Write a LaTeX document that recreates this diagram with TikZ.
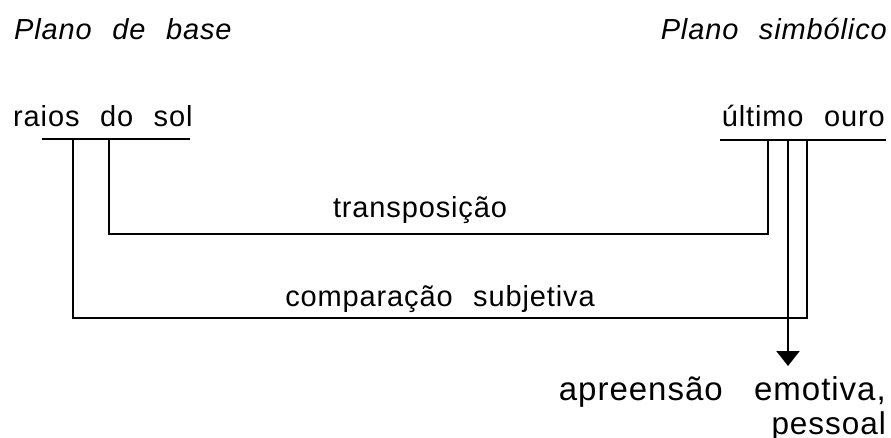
\documentclass[tikz,border=0pt]{standalone}
\usepackage{fontspec}
\setmainfont{Liberation Sans}[LetterSpace=3,WordSpace=2.3]
\usetikzlibrary{arrows.meta}
\begin{document}
\begin{tikzpicture}[x=1pt,y=-1pt,
  lbl/.style={inner sep=0pt,font=\fontsize{29}{33}\selectfont},
  big/.style={inner sep=0pt,font=\fontsize{31.5}{35}\selectfont},
  bigger/.style={inner sep=0pt,font=\fontsize{33}{37}\selectfont},
  ital/.style={inner sep=0pt,font=\fontsize{29}{33}\selectfont\itshape},
  conn/.style={line width=2.2pt,line cap=butt,line join=miter},
  uline/.style={line width=1.8pt}]
\useasboundingbox (0,0) rectangle (891,437);
% headings
\node[ital,anchor=base west] (pb) at (14,39) {Plano de base};
\node[ital,anchor=base east] (ps) at (887,39) {Plano simbólico};
% terms
\node[lbl,anchor=base west] (raios) at (13,126) {raios do sol};
\node[lbl,anchor=base east] (ultimo) at (885,126) {último ouro};
\coordinate (ulA) at (42,139);
\coordinate (ulB) at (190,139);
\coordinate (urA) at (720,140);
\coordinate (urB) at (886,140);
\draw[uline] (ulA) -- (ulB);
\draw[uline] (urA) -- (urB);
% connector attachment points
\coordinate (l1) at (73,139);
\coordinate (l2) at (109,139);
\coordinate (r1) at (768,140);
\coordinate (r2) at (788,140);
\coordinate (r3) at (807,140);
\coordinate (t1) at (109,234);
\coordinate (t2) at (768,234);
\coordinate (c1) at (73,318);
\coordinate (c2) at (807,318);
\coordinate (tip) at (788,366);
% labels
\node[lbl,anchor=base] (transp) at (420,217) {transposição};
\node[lbl,anchor=base] (comp) at (440,306) {comparação subjetiva};
\node[bigger,anchor=base east] (apre) at (886,400) {apreensão\hspace{8pt} emotiva,};
\node[big,anchor=base east] (pess) at (886,434) {pessoal};
% connectors
\draw[conn] (l2) -- (t1) -- (t2) -- (r1);
\draw[conn] (l1) -- (c1) -- (c2) -- (r3);
\draw[conn,-{Triangle[width=23pt,length=15pt]}] (r2) -- (tip);
\end{tikzpicture}
\end{document}
